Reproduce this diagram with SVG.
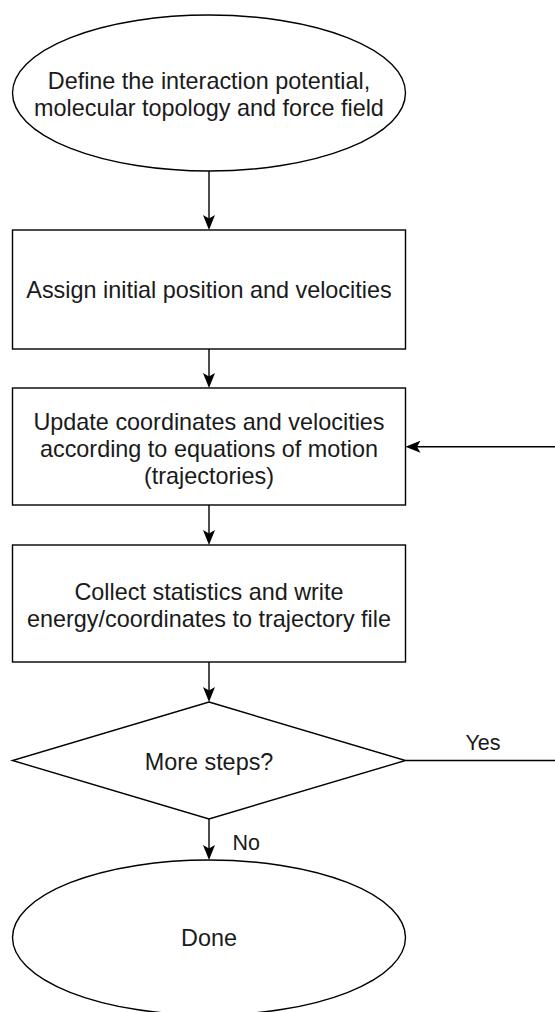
<svg xmlns="http://www.w3.org/2000/svg" width="555" height="1012" viewBox="0 0 555 1012">
<style>
.shape{fill:#fff;stroke:#000;stroke-width:1.4}
.edge{fill:none;stroke:#000;stroke-width:1.4}
text{font-family:"Liberation Sans",Arial,Helvetica,sans-serif;font-size:23.4px;fill:#1a1a1a}
.c{text-anchor:middle}
.lbl{font-size:21.5px}
</style>
<defs>
<marker id="arr" viewBox="0 0 15 12" markerWidth="15" markerHeight="12" markerUnits="userSpaceOnUse" refX="5" refY="6" orient="auto">
<path d="M15,6 L0,0 L3.5,6 L0,12 Z" fill="#000"/>
</marker>
</defs>
<rect width="555" height="1012" fill="#fff"/>
<g id="connectors">
<path class="edge" d="M209,171 V220" marker-end="url(#arr)"/>
<path class="edge" d="M209,349 V378" marker-end="url(#arr)"/>
<path class="edge" d="M209,505 V535" marker-end="url(#arr)"/>
<path class="edge" d="M209,662 V692" marker-end="url(#arr)"/>
<path class="edge" d="M209,819 V850" marker-end="url(#arr)"/>
<path class="edge" d="M405.5,760.5 H556 V446.7 H415.5" marker-end="url(#arr)"/>
<text class="lbl" x="465.5" y="750">Yes</text>
<text class="lbl" x="232.5" y="850">No</text>
</g>
<g id="start">
<ellipse class="shape" cx="209" cy="93" rx="196.5" ry="78"/>
<text class="c" x="209" y="89">Define the interaction potential,</text>
<text class="c" x="209" y="116">molecular topology and force field</text>
</g>
<g id="assign">
<rect class="shape" x="12.5" y="230" width="393" height="119"/>
<text class="c" x="209" y="298">Assign initial position and velocities</text>
</g>
<g id="update">
<rect class="shape" x="12.5" y="388" width="393" height="117"/>
<text class="c" x="209" y="430">Update coordinates and velocities</text>
<text class="c" x="209" y="457">according to equations of motion</text>
<text class="c" x="209" y="484">(trajectories)</text>
</g>
<g id="collect">
<rect class="shape" x="12.5" y="545" width="393" height="117"/>
<text class="c" x="209" y="600">Collect statistics and write</text>
<text class="c" x="209" y="627">energy/coordinates to trajectory file</text>
</g>
<g id="decision">
<polygon class="shape" points="209,702 405.5,760.5 209,819 12.5,760.5"/>
<text class="c" x="209" y="770">More steps?</text>
</g>
<g id="done">
<ellipse class="shape" cx="209" cy="937.5" rx="196.5" ry="77.5"/>
<text class="c" x="209" y="946">Done</text>
</g>
</svg>
